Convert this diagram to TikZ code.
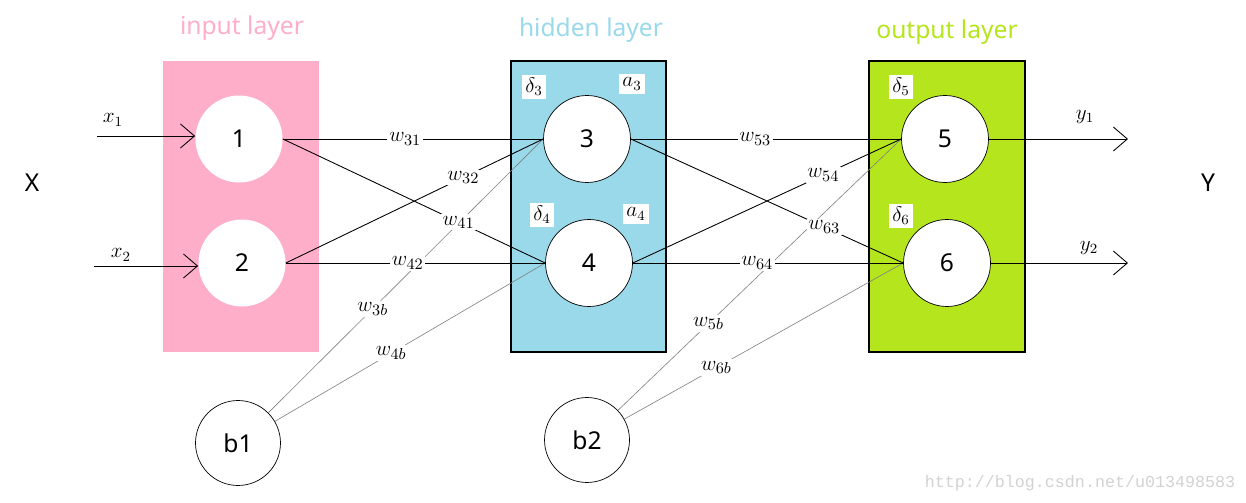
\documentclass[tikz,border=0pt]{standalone}
\usepackage{fontspec}
\setsansfont{Noto Sans}
\newfontfamily\wmfont{Liberation Mono}
\usetikzlibrary{arrows.meta}
\definecolor{inpink}{RGB}{255,174,201}
\definecolor{hidblue}{RGB}{153,217,234}
\definecolor{outgreen}{RGB}{181,230,29}
\begin{document}
\begin{tikzpicture}[x=0.02cm,y=-0.02cm,
	every node/.style={font=\sffamily\fontsize{14}{16}\selectfont},
	neuron/.style={circle,fill=white,minimum size=1.74cm,inner sep=0pt},
	bias/.style={circle,draw,line width=0.4pt,minimum size=1.7cm,inner sep=0pt},
	title/.style={font=\sffamily\fontsize{14}{16}\selectfont},
	weight/.style={fill=white,text=black,inner sep=1pt,font=\fontsize{12.5}{14}\selectfont},
	tag/.style={fill=white,inner sep=2pt,font=\large},
	conn/.style={line width=0.5pt},
	bconn/.style={gray,line width=0.35pt},
	arr/.style={line width=0.5pt,-{Straight Barb[length=0.28cm,width=0.48cm]}}]
\useasboundingbox (0,0) rectangle (1246,503);
% layers
\fill[inpink] (163,61) rectangle (319,352);
\filldraw[fill=hidblue,line width=0.6pt] (511,61) rectangle (666,352);
\filldraw[fill=outgreen,line width=0.6pt] (869,61) rectangle (1025,352);
\node[title,text=inpink] (tin) at (242,28) {input layer};
\node[title,text=hidblue] (thid) at (591,30) {hidden layer};
\node[title,text=outgreen] (tout) at (947,32) {output layer};
% neurons
\node[neuron] (n1) at (239,139) {1};
\node[neuron] (n2) at (242,263) {2};
\node[neuron,draw] (n3) at (587,139) {3};
\node[neuron,draw] (n4) at (589,263) {4};
\node[neuron,draw] (n5) at (945,139) {5};
\node[neuron,draw] (n6) at (947,263) {6};
\node[bias] (b1) at (238,443) {b1};
\node[bias] (b2) at (587,440) {b2};
\node[tag] (d3) at (534,87) {$\delta_3$};
\node[tag] (a3) at (632,84) {$a_3$};
\node[tag] (d4) at (542,215) {$\delta_4$};
\node[tag] (a4) at (636,214) {$a_4$};
\node[tag] (d5) at (901,87) {$\delta_5$};
\node[tag] (d6) at (901,216) {$\delta_6$};
% inputs and outputs
\node (lX) at (32,183) {X};
\node (lY) at (1208,183) {Y};
\coordinate (x1) at (97,136);
\coordinate (x2) at (94,266);
\coordinate (y1) at (1128,139);
\coordinate (y2) at (1128,263);
\draw[arr] (x1) -- (x1 -| n1.west);
\draw[arr] (x2) -- (x2 -| n2.west);
\draw[arr] (n5.east) -- (y1);
\draw[arr] (n6.east) -- (y2);
\node[font=\large] (lx1) at (113,120) {$x_1$};
\node[font=\large] (lx2) at (121,255) {$x_2$};
\node[font=\large] (ly1) at (1085,117) {$y_1$};
\node[font=\large] (ly2) at (1089,248) {$y_2$};
% bias links
\draw[bconn] (b1) -- node[weight,pos=.38] {$w_{3b}$} (n3.west);
\draw[bconn] (b1) -- node[weight,pos=.43] {$w_{4b}$} (n4.west);
\draw[bconn] (b2) -- node[weight,pos=.32] {$w_{5b}$} (n5.west);
\draw[bconn] (b2) -- node[weight,pos=.33] {$w_{6b}$} (n6.west);
% weights
\draw[conn] (n1.east) -- node[weight,pos=.47] {$w_{31}$} (n3.west);
\draw[conn] (n1.east) -- node[weight,pos=.67] {$w_{41}$} (n4.west);
\draw[conn] (n2.east) -- node[weight,pos=.69] {$w_{32}$} (n3.west);
\draw[conn] (n2.east) -- node[weight,pos=.47] {$w_{42}$} (n4.west);
\draw[conn] (n3.east) -- node[weight,pos=.46] {$w_{53}$} (n5.west);
\draw[conn] (n3.east) -- node[weight,pos=.71] {$w_{63}$} (n6.west);
\draw[conn] (n4.east) -- node[weight,pos=.71] {$w_{54}$} (n5.west);
\draw[conn] (n4.east) -- node[weight,pos=.46] {$w_{64}$} (n6.west);
% watermark
\node[font=\wmfont\fontsize{9.5}{11}\selectfont,text=gray!35] (wm) at (1080,483) {http://blog.csdn.net/u013498583};
\end{tikzpicture}
\end{document}
